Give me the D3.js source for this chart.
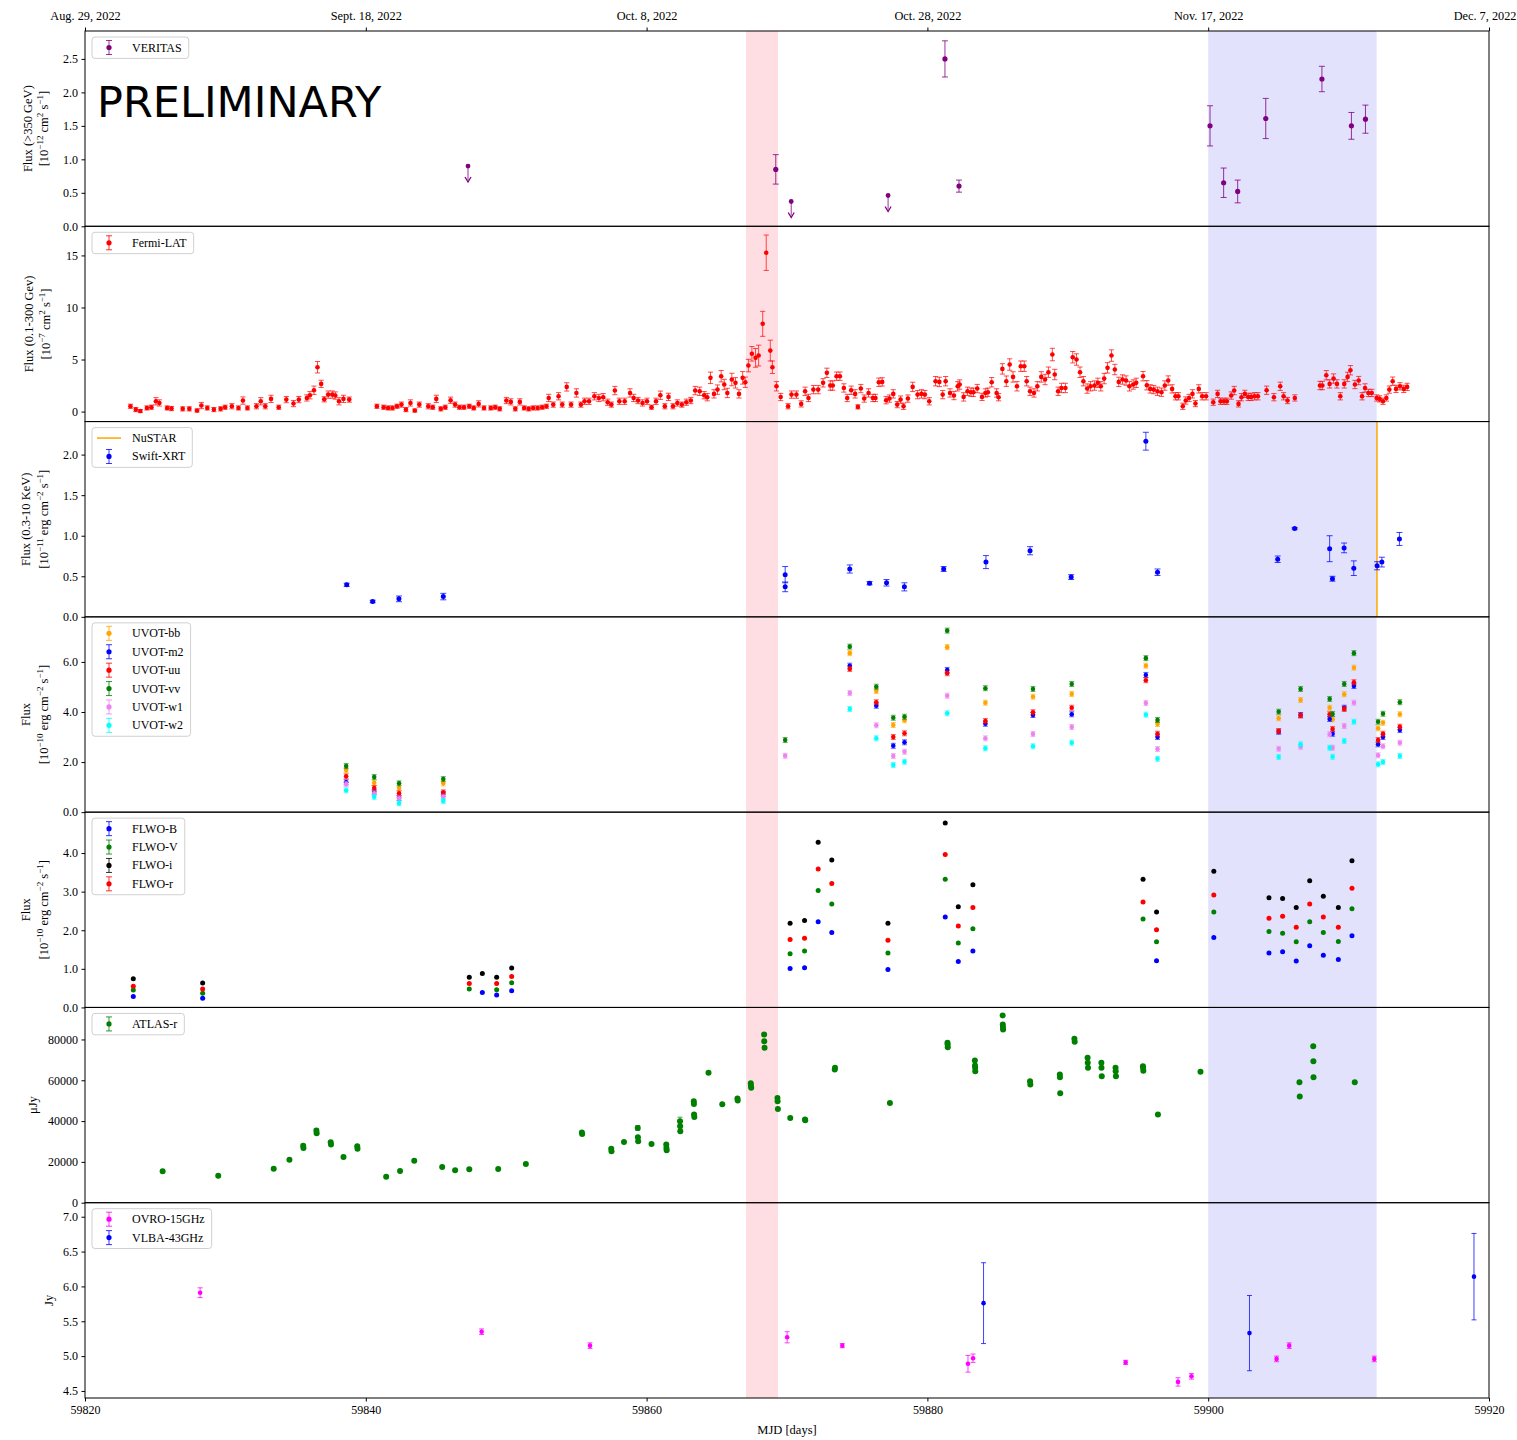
<!DOCTYPE html>
<html>
<head>
<meta charset="utf-8">
<script src="https://cdn.jsdelivr.net/npm/d3@7"></script>
<style>
  body { margin: 0; background: #fff; }
  svg { display: block; font-family: "Liberation Serif", "Times New Roman", serif; }
</style>
</head>
<body>
<svg id="chart" width="1517" height="1440"></svg>
<script>
// ---------------- time axes ----------------
const mjdTicks = [59820, 59840, 59860, 59880, 59900, 59920];
const dateTickMJD = [59820, 59840, 59860, 59880, 59900, 59920];
const dateTickLabels = ["Aug. 29, 2022", "Sept. 18, 2022", "Oct. 8, 2022", "Oct. 28, 2022", "Nov. 17, 2022", "Dec. 7, 2022"];
const flareWindow = [59867.08, 59869.36];
const campaignWindow = [59900.0, 59912.0];

// ---------------- y tick values ----------------
const veritasTicks = [0, 0.5, 1.0, 1.5, 2.0, 2.5];
const fermiTicks = [0, 5, 10, 15];
const xrtTicks = [0, 0.5, 1.0, 1.5, 2.0];
const uvotTicks = [0, 2, 4, 6];
const flwoTicks = [0, 1, 2, 3, 4];
const atlasTicks = [0, 20000, 40000, 60000, 80000];
const radioTicks = [4.5, 5.0, 5.5, 6.0, 6.5, 7.0];

// ---------------- VERITAS (>350 GeV), [MJD, flux, err] ----------------
const veritasFlux = [
  [59869.2, 0.85, 0.22], [59881.25, 2.50, 0.27], [59882.25, 0.60, 0.09],
  [59900.13, 1.50, 0.30], [59901.10, 0.65, 0.22], [59902.10, 0.52, 0.17],
  [59904.10, 1.61, 0.30], [59908.10, 2.20, 0.19], [59910.20, 1.50, 0.20],
  [59911.20, 1.60, 0.21]
];
// upper limits [MJD, UL]
const veritasUL = [[59847.28, 0.90], [59870.30, 0.37], [59877.20, 0.46]];

// ---------------- Fermi-LAT (0.1-300 GeV), [MJD, flux, err] ----------------
const fermiLAT = [
  [59823.24,0.51,0.2],[59823.62,0.19,0.2],[59823.94,0.05,0.15],[59824.41,0.35,0.2],[59824.73,0.42,0.2],
  [59825.05,0.99,0.35],[59825.30,0.83,0.3],[59825.85,0.35,0.2],[59826.16,0.29,0.2],[59826.96,0.26,0.2],
  [59827.43,0.26,0.2],[59827.98,0.10,0.15],[59828.29,0.58,0.3],[59828.71,0.35,0.2],[59829.18,0.19,0.2],
  [59829.66,0.26,0.2],[59829.98,0.42,0.2],[59830.46,0.51,0.25],[59830.93,0.35,0.2],[59831.25,1.06,0.35],
  [59831.57,0.35,0.2],[59832.21,0.51,0.25],[59832.52,0.99,0.35],[59832.84,0.51,0.25],[59833.25,1.22,0.35],
  [59833.80,0.42,0.2],[59834.34,1.15,0.3],[59834.85,0.77,0.3],[59835.23,1.15,0.3],[59835.80,1.31,0.3],
  [59836.02,1.57,0.35],[59836.31,2.05,0.4],[59836.56,4.26,0.55],[59836.82,2.66,0.35],[59837.04,1.18,0.25],
  [59837.32,1.63,0.35],[59837.61,1.63,0.35],[59837.83,1.54,0.35],[59838.09,0.99,0.35],[59838.41,1.22,0.35],
  [59838.82,1.15,0.25],
  [59840.79,0.51,0.2],[59841.27,0.42,0.2],[59841.59,0.35,0.2],[59841.90,0.35,0.2],[59842.22,0.51,0.2],
  [59842.54,0.67,0.25],[59842.86,0.19,0.2],[59843.18,0.83,0.3],[59843.49,0.10,0.15],[59843.81,0.67,0.25],
  [59844.45,0.51,0.25],[59844.77,0.42,0.2],[59845.02,1.22,0.35],[59845.34,0.26,0.2],[59845.66,0.42,0.2],
  [59846.04,1.09,0.3],[59846.36,0.67,0.25],[59846.67,0.42,0.2],[59846.99,0.42,0.2],[59847.37,0.51,0.2],
  [59847.69,0.35,0.2],[59848.04,0.74,0.3],[59848.42,0.35,0.2],[59848.90,0.35,0.2],[59849.22,0.42,0.2],
  [59849.54,0.26,0.2],[59850.01,1.06,0.3],[59850.33,0.93,0.3],[59850.65,0.26,0.2],[59850.97,0.93,0.3],
  [59851.28,0.35,0.2],[59851.60,0.26,0.2],[59851.92,0.35,0.2],[59852.24,0.35,0.2],[59852.56,0.42,0.2],
  [59852.87,0.51,0.2],[59853.03,1.31,0.35],[59853.35,0.67,0.25],[59853.73,1.47,0.35],[59853.99,0.67,0.25],
  [59854.31,2.37,0.4],[59854.62,0.67,0.25],[59855.00,1.79,0.4],[59855.32,0.67,0.25],[59855.58,0.99,0.3],
  [59855.90,0.99,0.3],[59856.28,1.47,0.35],[59856.60,1.31,0.35],[59856.91,1.38,0.35],[59857.23,0.90,0.3],
  [59857.49,0.67,0.25],[59857.74,2.02,0.4],[59858.06,0.99,0.3],[59858.44,0.99,0.3],[59858.82,1.79,0.4],
  [59859.08,1.31,0.35],[59859.39,1.06,0.3],[59859.71,0.83,0.3],[59860.03,0.99,0.3],[59860.35,0.42,0.2],
  [59860.67,0.99,0.3],[59860.98,1.57,0.4],[59861.30,0.51,0.25],[59861.56,1.41,0.35],[59861.88,0.51,0.25],
  [59862.19,0.83,0.3],[59862.51,0.67,0.25],[59862.83,0.90,0.3],[59863.15,1.06,0.3],[59863.46,2.02,0.4],
  [59863.78,1.95,0.4],[59864.10,1.57,0.35],[59864.32,1.38,0.35],[59864.55,3.24,0.55],[59864.80,1.70,0.4],
  [59865.05,2.11,0.45],[59865.31,3.40,0.55],[59865.53,2.60,0.5],[59865.75,1.79,0.45],[59866.07,3.08,0.6],
  [59866.33,2.76,0.5],[59866.58,1.70,0.4],[59866.84,3.24,0.6],[59867.03,2.82,0.5],[59867.25,4.42,0.6],
  [59867.50,5.55,0.7],[59867.76,5.16,0.9],[59867.98,5.38,1.0],[59868.27,8.43,1.2],[59868.52,15.26,1.7],
  [59868.81,5.86,1.0],[59868.96,4.26,0.6],[59869.25,2.43,0.45],[59869.55,1.40,0.35],
  [59870.08,0.51,0.25],[59870.32,1.63,0.35],[59870.67,1.63,0.35],[59871.01,0.74,0.3],[59871.29,1.95,0.4],
  [59871.53,1.31,0.35],[59871.88,2.11,0.4],[59872.22,2.11,0.4],[59872.57,2.76,0.4],[59872.84,3.72,0.45],
  [59873.08,2.50,0.45],[59873.26,2.50,0.45],[59873.53,3.40,0.4],[59873.77,3.40,0.4],[59874.05,2.27,0.4],
  [59874.29,1.31,0.35],[59874.57,2.05,0.4],[59874.85,1.70,0.4],[59875.05,0.45,0.2],[59875.26,2.21,0.4],
  [59875.50,1.25,0.35],[59875.81,1.79,0.4],[59876.12,1.31,0.35],[59876.30,1.31,0.35],[59876.54,2.82,0.4],
  [59876.78,2.85,0.4],[59877.06,1.09,0.35],[59877.30,1.25,0.35],[59877.57,1.70,0.4],[59877.85,0.67,0.3],
  [59878.09,1.15,0.35],[59878.30,0.51,0.3],[59878.61,1.25,0.35],[59878.95,2.37,0.45],[59879.30,1.63,0.4],
  [59879.58,1.70,0.4],[59879.82,1.63,0.4],[59880.13,0.99,0.35],[59880.58,2.92,0.45],[59880.85,2.85,0.45],
  [59881.09,1.63,0.4],[59881.30,2.92,0.45],[59881.61,1.79,0.4],[59881.89,1.54,0.4],[59882.16,2.43,0.45],
  [59882.30,2.60,0.45],[59882.58,1.41,0.4],[59882.86,1.95,0.4],[59883.10,1.86,0.4],[59883.28,1.86,0.4],
  [59883.55,2.21,0.4],[59883.89,1.41,0.35],[59884.13,1.79,0.4],[59884.31,1.86,0.4],[59884.58,2.82,0.45],
  [59884.93,1.79,0.4],[59885.07,1.38,0.35],[59885.34,4.10,0.5],[59885.62,2.92,0.5],[59885.86,4.52,0.55],
  [59886.10,3.33,0.5],[59886.38,2.43,0.45],[59886.65,4.36,0.5],[59886.90,4.36,0.5],[59887.07,2.92,0.45],
  [59887.31,1.95,0.4],[59887.59,1.79,0.4],[59887.83,2.43,0.45],[59888.11,3.33,0.5],[59888.38,3.08,0.5],
  [59888.62,3.78,0.5],[59888.90,5.48,0.6],[59889.07,3.56,0.5],[59889.31,1.95,0.4],[59889.55,2.27,0.45],
  [59889.83,2.27,0.45],[59890.35,5.22,0.55],[59890.62,5.00,0.55],[59890.87,3.78,0.5],[59891.11,2.92,0.45],
  [59891.38,2.21,0.45],[59891.62,2.43,0.45],[59891.90,2.50,0.45],[59892.14,2.76,0.45],[59892.35,2.43,0.45],
  [59892.59,3.17,0.5],[59892.83,4.20,0.5],[59893.11,5.38,0.55],[59893.35,4.04,0.5],[59893.63,2.85,0.45],
  [59893.90,3.08,0.45],[59894.15,2.98,0.45],[59894.39,2.43,0.45],[59894.66,2.60,0.45],[59894.87,2.76,0.45],
  [59895.36,3.40,0.45],[59895.63,2.53,0.45],[59895.87,2.18,0.4],[59896.12,2.11,0.4],[59896.39,1.95,0.4],
  [59896.67,1.86,0.4],[59896.91,2.50,0.45],[59897.15,2.98,0.45],[59897.43,2.18,0.4],[59897.67,1.47,0.35],
  [59897.88,1.47,0.35],[59898.19,0.51,0.3],[59898.40,1.06,0.35],[59898.64,1.31,0.35],[59898.88,1.70,0.4],
  [59899.09,0.77,0.3],[59899.33,2.18,0.4],[59899.57,1.47,0.35],[59899.85,1.47,0.35],[59900.36,0.90,0.3],
  [59900.67,1.70,0.35],[59900.88,0.99,0.3],[59901.12,0.99,0.3],[59901.33,0.99,0.3],[59901.64,1.54,0.35],
  [59901.85,2.02,0.4],[59902.16,0.74,0.3],[59902.37,1.38,0.35],[59902.61,1.70,0.35],[59902.85,1.41,0.35],
  [59903.06,1.41,0.35],[59903.30,1.47,0.35],[59903.54,1.47,0.35],[59904.16,2.05,0.4],[59904.68,1.38,0.35],
  [59905.13,2.43,0.4],[59905.37,1.47,0.35],[59905.65,1.06,0.3],[59906.17,1.31,0.3],
  [59907.96,2.50,0.4],[59908.13,2.50,0.4],[59908.41,3.49,0.45],[59908.65,2.66,0.4],[59908.93,3.17,0.45],
  [59909.17,2.66,0.4],[59909.41,1.47,0.35],[59909.69,2.66,0.4],[59909.93,3.33,0.45],[59910.13,3.97,0.45],
  [59910.45,2.60,0.4],[59910.72,2.98,0.4],[59910.96,1.47,0.35],[59911.17,2.27,0.4],[59911.41,1.79,0.35],
  [59911.65,1.79,0.35],[59912.00,1.31,0.3],[59912.21,1.22,0.3],[59912.45,0.99,0.3],[59912.69,1.31,0.3],
  [59912.90,2.11,0.35],[59913.14,2.92,0.4],[59913.38,2.18,0.35],[59913.66,2.43,0.35],[59913.93,2.18,0.35],
  [59914.17,2.37,0.35]
];

// ---------------- X-ray (0.3-10 keV) ----------------
const nustarMJD = 59912.02;
const swiftXRT = [
  [59838.64,0.395,0.02],[59840.49,0.19,0.015],[59842.36,0.222,0.035],[59845.52,0.25,0.04],
  [59869.87,0.52,0.10],[59869.87,0.37,0.06],[59874.47,0.59,0.05],[59875.88,0.415,0.02],
  [59877.09,0.42,0.04],[59878.36,0.37,0.05],[59881.16,0.59,0.03],[59884.17,0.675,0.08],
  [59887.31,0.815,0.05],[59890.24,0.49,0.03],[59895.56,2.165,0.11],[59896.39,0.55,0.04],
  [59904.95,0.71,0.04],[59906.16,1.09,0.01],[59908.65,0.84,0.16],[59908.85,0.47,0.03],
  [59909.68,0.85,0.06],[59910.37,0.60,0.09],[59912.03,0.63,0.05],[59912.37,0.675,0.06],
  [59913.62,0.96,0.08]
];

// ---------------- Swift-UVOT (per-epoch, one value per filter) ----------------
const uvotEpochs = [59838.60, 59840.60, 59842.37, 59845.52, 59869.87, 59874.47, 59876.36, 59877.57,
  59878.37, 59881.41, 59884.13, 59887.52, 59890.28, 59895.56, 59896.39, 59905.02, 59906.58, 59908.65,
  59908.86, 59909.69, 59910.38, 59912.10, 59912.45, 59913.65];
const uvotBB = [1.68,1.17,0.96,1.15,null,6.35,4.84,3.48,3.67,6.59,4.37,4.61,4.72,5.85,3.52,3.75,4.48,4.17,3.71,4.71,5.77,3.35,3.57,3.91];
const uvotM2 = [1.19,0.81,0.57,0.72,null,5.85,4.25,2.65,2.79,5.68,3.53,3.88,3.91,5.48,3.00,3.21,3.88,3.72,3.13,4.17,5.04,2.71,3.00,3.28];
const uvotUU = [1.43,0.96,0.75,0.79,null,5.72,4.39,3.00,3.15,5.55,3.64,3.99,4.17,5.27,3.13,3.24,3.86,3.91,3.32,4.12,5.19,2.88,3.13,3.41];
const uvotVV = [1.84,1.40,1.15,1.32,2.88,6.61,5.01,3.77,3.81,7.25,4.95,4.92,5.12,6.15,3.68,4.01,4.92,4.52,3.92,5.12,6.35,3.61,3.93,4.39];
const uvotW1 = [1.12,0.75,0.55,0.61,2.25,4.76,3.47,2.24,2.41,4.65,2.95,3.12,3.40,4.36,2.52,2.53,2.61,3.11,2.57,3.44,4.37,2.27,2.63,2.77];
const uvotW2 = [0.87,0.61,0.36,0.45,null,4.12,2.95,1.88,2.01,3.95,2.55,2.63,2.77,3.89,2.13,2.20,2.71,2.57,2.21,2.84,3.61,1.91,2.00,2.24];

// ---------------- FLWO optical (per-epoch, one value per band) ----------------
const flwoEpochs = [59823.44, 59828.38, 59847.37, 59848.30, 59849.32, 59850.39, 59870.22, 59871.25,
  59872.22, 59873.19, 59877.19, 59881.27, 59882.20, 59883.24, 59895.36, 59896.32, 59900.40, 59904.33,
  59905.30, 59906.27, 59907.23, 59908.20, 59909.27, 59910.24];
const flwoB = [0.28,0.24,null,0.39,0.32,0.43,1.01,1.03,2.22,1.94,0.98,2.34,1.19,1.46,null,1.21,1.81,1.41,1.44,1.20,1.60,1.35,1.24,1.86];
const flwoV = [0.45,0.37,0.48,null,0.46,0.64,1.39,1.46,3.03,2.68,1.41,3.32,1.67,2.04,2.29,1.70,2.47,1.97,1.92,1.70,2.22,1.94,1.71,2.56];
const flwoI = [0.74,0.63,0.78,0.88,0.78,1.02,2.18,2.25,4.28,3.82,2.18,4.78,2.61,3.18,3.32,2.47,3.53,2.84,2.82,2.59,3.28,2.88,2.59,3.80];
const flwoR = [0.55,0.48,0.62,null,0.62,0.80,1.76,1.79,3.59,3.21,1.74,3.96,2.11,2.59,2.73,2.01,2.91,2.31,2.36,2.08,2.68,2.34,2.08,3.09];

// ---------------- ATLAS r-band, [MJD, flux (uJy), err] ----------------
const atlasR = [
  [59825.53,15380],[59829.49,13250],[59833.44,16690],[59834.56,21100],[59835.54,27970],[59835.56,26840],
  [59836.48,35340,900],[59836.50,34020],[59837.50,29600],[59837.52,28470],[59838.41,22420],[59839.39,27650],
  [59839.41,26500],[59841.45,12760],[59842.44,15540],[59843.45,20610],[59845.44,17510],[59846.36,15870],
  [59847.37,16360],[59849.43,16520],[59851.40,18980],[59855.39,34360],[59855.41,33700],[59857.48,26500],
  [59857.50,25190],[59858.39,29780],[59859.37,36640,1200],[59859.38,32060],[59859.40,30100],[59860.35,28790],
  [59861.40,28470],[59861.41,26830],[59861.43,25680],[59862.38,39920,2000],[59862.39,37460],[59862.40,35010],
  [59863.36,49730],[59863.37,48420],[59863.38,43190],[59863.40,42040],[59864.41,63640],[59865.39,48260],
  [59866.47,51040],[59866.49,50060],[59867.42,58570],[59867.43,57260],[59867.45,56280],[59868.37,82460],
  [59868.38,79180],[59868.40,75910],[59869.32,51370],[59869.33,49730],[59869.35,45980],[59870.23,41550],
  [59871.28,40740],[59871.30,40430],[59873.40,65280],[59873.42,66100],[59877.33,48910],[59881.43,78370],
  [59881.44,77550],[59881.45,76240],[59883.38,69690],[59883.39,67240],[59883.40,66100],[59883.41,64460],
  [59885.36,91780],[59885.37,87360],[59885.38,86050],[59885.39,84910],[59887.31,59560],[59887.33,57910],
  [59889.43,62820],[59889.44,61510],[59889.46,53660],[59890.47,80330],[59890.49,78860],[59891.41,71000],
  [59891.42,68550],[59891.44,66100],[59892.39,68550],[59892.40,66100],[59892.42,62000],[59893.40,66100],
  [59893.41,64460],[59893.43,62000],[59895.35,66920],[59895.36,66100],[59895.38,64620],[59896.42,43190],
  [59899.45,64130],[59906.50,59070],[59906.52,52030],[59907.48,76730],[59907.49,69360],[59907.50,61510],
  [59910.44,59070]
];

// ---------------- Radio, [MJD, flux (Jy), err] ----------------
const ovro15 = [
  [59828.20,5.91,0.07],[59848.25,5.35,0.04],[59855.97,5.15,0.04],[59870.01,5.27,0.08],[59873.94,5.15,0.03],
  [59882.89,4.89,0.12],[59883.25,4.97,0.06],[59894.12,4.91,0.03],[59897.85,4.63,0.06],[59898.81,4.71,0.04],
  [59904.87,4.96,0.04],[59905.77,5.15,0.04],[59911.83,4.96,0.04]
];
const vlba43 = [[59884.00,5.76,0.58],[59902.94,5.33,0.54],[59918.93,6.14,0.62]];

// ======================================================================
const SERIF = '"Liberation Serif", "Times New Roman", serif';
const svg = d3.select("#chart");
const defs = svg.append("defs");

const left = 85, right = 1489, plotTop = 31, plotBottom = 1398, nPanels = 7;
const panelH = (plotBottom - plotTop) / nPanels;
const x = d3.scaleLinear().domain([59820, 59920]).range([left, right]);

function epochRows(epochs, vals, err) {
  return epochs.map((t, i) => [t, vals[i], err]).filter(d => d[1] != null);
}

const panels = [
  { domain: [0, 2.917], ticks: veritasTicks, fmt: d3.format(".1f"),
    label: [[["Flux (>350 GeV)"]], [["[10"], ["\u221212", 1], [" cm"], ["2", 1], [" s"], ["\u22121", 1], ["]"]]],
    labelX: [32, 48],
    legend: [{ name: "VERITAS", color: "purple" }] },
  { domain: [-0.96, 17.8], ticks: fermiTicks, fmt: d3.format("d"),
    label: [[["Flux (0.1-300 Gev)"]], [["[10"], ["\u22127", 1], [" cm"], ["2", 1], [" s"], ["\u22121", 1], ["]"]]],
    labelX: [33, 50],
    legend: [{ name: "Fermi-LAT", color: "red" }] },
  { domain: [0, 2.407], ticks: xrtTicks, fmt: d3.format(".1f"),
    label: [[["Flux (0.3-10 KeV)"]], [["[10"], ["\u221211", 1], [" erg cm"], ["\u22122", 1], [" s"], ["\u22121", 1], ["]"]]],
    labelX: [30, 48],
    legend: [{ name: "NuSTAR", color: "orange", line: true }, { name: "Swift-XRT", color: "blue" }] },
  { domain: [0, 7.8], ticks: uvotTicks, fmt: d3.format(".1f"),
    label: [[["Flux"]], [["[10"], ["\u221210", 1], [" erg cm"], ["\u22122", 1], [" s"], ["\u22121", 1], ["]"]]],
    labelX: [30, 48],
    legend: [{ name: "UVOT-bb", color: "orange" }, { name: "UVOT-m2", color: "blue" }, { name: "UVOT-uu", color: "red" },
             { name: "UVOT-vv", color: "green" }, { name: "UVOT-w1", color: "violet" }, { name: "UVOT-w2", color: "cyan" }] },
  { domain: [0, 5.06], ticks: flwoTicks, fmt: d3.format(".1f"),
    label: [[["Flux"]], [["[10"], ["\u221210", 1], [" erg cm"], ["\u22122", 1], [" s"], ["\u22121", 1], ["]"]]],
    labelX: [30, 48],
    legend: [{ name: "FLWO-B", color: "blue" }, { name: "FLWO-V", color: "green" }, { name: "FLWO-i", color: "black" }, { name: "FLWO-r", color: "red" }] },
  { domain: [0, 95700], ticks: atlasTicks, fmt: d3.format("d"),
    label: [[["\u03bcJy"]]], labelX: [37],
    legend: [{ name: "ATLAS-r", color: "green" }] },
  { domain: [4.399, 7.201], ticks: radioTicks, fmt: d3.format(".1f"),
    label: [[["Jy"]]], labelX: [53],
    legend: [{ name: "OVRO-15GHz", color: "magenta" }, { name: "VLBA-43GHz", color: "blue" }] }
];

// errorbar points: rows are [t, value, err]
function errPoints(g, rows, y, color, o = {}) {
  const r = o.r ?? 2.4, cap = o.cap ?? 3, lw = o.lw ?? 1, op = o.barOpacity ?? 0.75;
  const withErr = rows.filter(d => d[2]);
  const bars = g.append("g").attr("stroke", color).attr("stroke-width", lw).attr("stroke-opacity", op);
  bars.selectAll("line.v").data(withErr).join("line")
    .attr("x1", d => x(d[0])).attr("x2", d => x(d[0]))
    .attr("y1", d => y(d[1] - d[2])).attr("y2", d => y(d[1] + d[2]));
  if (cap > 0) {
    bars.selectAll("line.ct").data(withErr).join("line")
      .attr("x1", d => x(d[0]) - cap).attr("x2", d => x(d[0]) + cap)
      .attr("y1", d => y(d[1] + d[2])).attr("y2", d => y(d[1] + d[2]));
    bars.selectAll("line.cb").data(withErr).join("line")
      .attr("x1", d => x(d[0]) - cap).attr("x2", d => x(d[0]) + cap)
      .attr("y1", d => y(d[1] - d[2])).attr("y2", d => y(d[1] - d[2]));
  }
  g.append("g").selectAll("circle").data(rows).join("circle")
    .attr("cx", d => x(d[0])).attr("cy", d => y(d[1])).attr("r", r).attr("fill", color);
}

panels.forEach((p, i) => {
  const top = plotTop + i * panelH, bottom = top + panelH;
  const y = d3.scaleLinear().domain(p.domain).range([bottom, top]);
  p.y = y;

  defs.append("clipPath").attr("id", "clip" + i)
    .append("rect").attr("x", left).attr("y", top).attr("width", right - left).attr("height", panelH);

  const g = svg.append("g").attr("clip-path", `url(#clip${i})`);

  // shaded time windows
  g.append("rect").attr("x", x(flareWindow[0])).attr("width", x(flareWindow[1]) - x(flareWindow[0]))
    .attr("y", top).attr("height", panelH).attr("fill", "rgba(255,182,193,0.46)");
  g.append("rect").attr("x", x(campaignWindow[0])).attr("width", x(campaignWindow[1]) - x(campaignWindow[0]))
    .attr("y", top).attr("height", panelH).attr("fill", "rgba(0,0,240,0.115)");

  p.g = g;
  p.top = top; p.bottom = bottom;

  // y axis
  const ax = svg.append("g").attr("transform", `translate(${left},0)`)
    .call(d3.axisLeft(y).tickValues(p.ticks).tickFormat(p.fmt).tickSize(3.5).tickPadding(3.5));
  ax.select(".domain").remove();
  ax.attr("font-family", null).attr("font-size", null);
  ax.selectAll("text").style("font-size", "12px").style("font-family", SERIF).attr("fill", "#000");
  ax.selectAll("line").attr("stroke", "#000");

  // y label (rotated, one text per line)
  const cy = (top + bottom) / 2;
  p.label.forEach((parts, k) => {
    const t = svg.append("text")
      .attr("transform", `translate(${p.labelX[k]},${cy}) rotate(-90)`)
      .attr("text-anchor", "middle").style("font-size", "12.5px").style("font-family", SERIF).attr("fill", "#000");
    let shifted = false;
    parts.forEach(([s, sup]) => {
      const ts = t.append("tspan").text(s);
      if (sup && !shifted) { ts.attr("dy", -5).style("font-size", "9px"); shifted = true; }
      else if (sup && shifted) { ts.style("font-size", "9px"); }
      else if (!sup && shifted) { ts.attr("dy", 5); shifted = false; }
    });
  });
});

// ---- panel 1: VERITAS ----
{
  const p = panels[0];
  errPoints(p.g, veritasFlux, p.y, "purple", { r: 2.6, cap: 3, barOpacity: 0.8 });
  const ul = p.g.append("g").attr("stroke", "purple").attr("fill", "purple");
  ul.selectAll("line").data(veritasUL).join("line")
    .attr("x1", d => x(d[0])).attr("x2", d => x(d[0]))
    .attr("y1", d => p.y(d[1])).attr("y2", d => p.y(d[1]) + 14).attr("stroke-opacity", 0.8);
  ul.selectAll("path").data(veritasUL).join("path")
    .attr("d", d => { const cx = x(d[0]), by = p.y(d[1]) + 16; return `M${cx - 3},${by - 5}L${cx},${by}L${cx + 3},${by - 5}`; })
    .attr("fill", "none").attr("stroke-width", 1.3);
  ul.selectAll("circle").data(veritasUL).join("circle")
    .attr("cx", d => x(d[0])).attr("cy", d => p.y(d[1])).attr("r", 2.4).attr("stroke", "none");
}

// ---- panel 2: Fermi-LAT ----
errPoints(panels[1].g, fermiLAT, panels[1].y, "red", { r: 2.3, cap: 2.6, barOpacity: 0.7 });

// ---- panel 3: X-ray ----
{
  const p = panels[2];
  p.g.append("line").attr("x1", x(nustarMJD)).attr("x2", x(nustarMJD))
    .attr("y1", p.top).attr("y2", p.bottom).attr("stroke", "orange").attr("stroke-width", 1.5);
  errPoints(p.g, swiftXRT, p.y, "blue", { r: 2.5, cap: 3, barOpacity: 0.75 });
}

// ---- panel 4: UVOT ----
{
  const p = panels[3];
  [[uvotBB, "orange"], [uvotM2, "blue"], [uvotUU, "red"], [uvotVV, "green"], [uvotW1, "violet"], [uvotW2, "cyan"]]
    .forEach(([vals, c]) => errPoints(p.g, epochRows(uvotEpochs, vals, 0.1), p.y, c, { r: 2.3, cap: 2.5, barOpacity: 0.6 }));
}

// ---- panel 5: FLWO ----
{
  const p = panels[4];
  [[flwoB, "blue"], [flwoV, "green"], [flwoI, "black"], [flwoR, "red"]]
    .forEach(([vals, c]) => errPoints(p.g, epochRows(flwoEpochs, vals, 0), p.y, c, { r: 2.5, cap: 0 }));
}

// ---- panel 6: ATLAS ----
errPoints(panels[5].g, atlasR, panels[5].y, "green", { r: 3, cap: 2.5, barOpacity: 0.7 });

// ---- panel 7: radio ----
errPoints(panels[6].g, ovro15, panels[6].y, "magenta", { r: 2.3, cap: 2.5, barOpacity: 0.75 });
errPoints(panels[6].g, vlba43, panels[6].y, "blue", { r: 2.3, cap: 2.5, barOpacity: 0.75 });

// ---- frames + legends ----
panels.forEach((p, i) => {
  svg.append("rect").attr("x", left).attr("y", p.top).attr("width", right - left).attr("height", panelH)
    .attr("fill", "none").attr("stroke", "#000").attr("stroke-width", 1);

  const lg = svg.append("g");
  const boxX = 92, boxY = p.top + 6, rowH = 18.4;
  const box = lg.append("rect").attr("x", boxX).attr("y", boxY).attr("rx", 3)
    .attr("height", p.legend.length * rowH + 3)
    .attr("fill", "rgba(255,255,255,0.85)").attr("stroke", "#d0d0d0").attr("stroke-width", 1);
  let maxEnd = 0;
  p.legend.forEach((e, k) => {
    const cy = boxY + 10.5 + k * rowH;
    if (e.line) {
      lg.append("line").attr("x1", 97).attr("x2", 121).attr("y1", cy).attr("y2", cy)
        .attr("stroke", e.color).attr("stroke-width", 1.5);
    } else {
      const bar = lg.append("g").attr("stroke", e.color).attr("stroke-opacity", 0.8);
      bar.append("line").attr("x1", 109).attr("x2", 109).attr("y1", cy - 7).attr("y2", cy + 7);
      bar.append("line").attr("x1", 106).attr("x2", 112).attr("y1", cy - 7).attr("y2", cy - 7);
      bar.append("line").attr("x1", 106).attr("x2", 112).attr("y1", cy + 7).attr("y2", cy + 7);
      lg.append("circle").attr("cx", 109).attr("cy", cy).attr("r", 2.6).attr("fill", e.color);
    }
    const t = lg.append("text").attr("x", 132).attr("y", cy + 4)
      .style("font-size", "12px").style("font-family", SERIF).attr("fill", "#000").text(e.name);
    maxEnd = Math.max(maxEnd, 132 + t.node().getComputedTextLength());
  });
  box.attr("width", maxEnd + 7 - boxX);
});

// ---- bottom MJD axis ----
{
  const ax = svg.append("g").attr("transform", `translate(0,${plotBottom})`)
    .call(d3.axisBottom(x).tickValues(mjdTicks).tickFormat(d3.format("d")).tickSize(3.5).tickPadding(3.5));
  ax.select(".domain").remove();
  ax.attr("font-family", null).attr("font-size", null);
  ax.selectAll("text").style("font-size", "12px").style("font-family", SERIF).attr("fill", "#000");
  ax.selectAll("line").attr("stroke", "#000");
  svg.append("text").attr("x", (left + right) / 2).attr("y", 1434).attr("text-anchor", "middle")
    .style("font-size", "12.5px").style("font-family", SERIF).attr("fill", "#000").text("MJD [days]");
}

// ---- top calendar-date axis ----
{
  const ax = svg.append("g").attr("transform", `translate(0,${plotTop})`)
    .call(d3.axisTop(x).tickValues(dateTickMJD).tickFormat((d, i) => dateTickLabels[i]).tickSize(3.5).tickPadding(8));
  ax.select(".domain").remove();
  ax.attr("font-family", null).attr("font-size", null);
  ax.selectAll("text").style("font-size", "12.3px").style("font-family", SERIF).attr("fill", "#000");
  ax.selectAll("line").attr("stroke", "#000");
  // keep the last date label inside the page
  ax.selectAll(".tick text").filter((d, i) => i === dateTickMJD.length - 1)
    .attr("text-anchor", "end").attr("x", 1516 - x(dateTickMJD[dateTickMJD.length - 1]));
}

// ---- watermark ----
svg.append("text").attr("x", 97).attr("y", 117)
  .style("font-family", '"DejaVu Sans", sans-serif').style("font-size", "43px").attr("fill", "#000")
  .text("PRELIMINARY");
</script>
</body>
</html>
